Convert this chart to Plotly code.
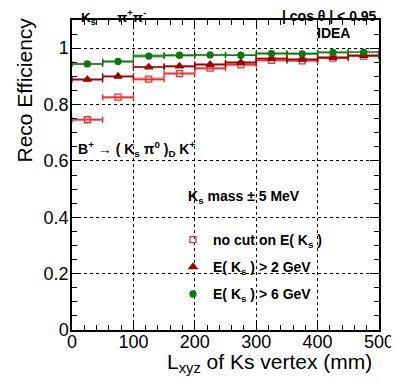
import plotly.graph_objects as go

# ---- data ----
bin_centers = [25, 75, 125, 175, 225, 275, 325, 375, 425, 475]
bin_halfwidth = [25] * 10
eff_nocut = [0.746, 0.826, 0.890, 0.910, 0.929, 0.941, 0.957, 0.955, 0.965, 0.972]
eff_e2 = [0.889, 0.900, 0.933, 0.936, 0.942, 0.949, 0.963, 0.960, 0.967, 0.974]
eff_e6 = [0.944, 0.953, 0.972, 0.975, 0.976, 0.975, 0.981, 0.980, 0.985, 0.986]
err_nocut = [0.006, 0.006, 0.006, 0.005, 0.005, 0.005, 0.005, 0.005, 0.005, 0.005]
err_e2 = [0.005, 0.005, 0.005, 0.005, 0.005, 0.005, 0.004, 0.004, 0.004, 0.004]
err_e6 = [0.005, 0.005, 0.006, 0.005, 0.005, 0.004, 0.004, 0.005, 0.004, 0.004]

series_names = ["no cut on E( K<sub>s</sub> )", "E( K<sub>s</sub> ) > 2 GeV", "E( K<sub>s</sub> ) > 6 GeV"]
x_ticks = [0, 100, 200, 300, 400, 500]
y_ticks = [0, 0.2, 0.4, 0.6, 0.8, 1.0]
y_ticktext = ["0", "0.2", "0.4", "0.6", "0.8", "1"]

FONT = "Liberation Sans, Arial, Helvetica, sans-serif"

styles = [
    dict(vals=eff_nocut, errs=err_nocut, color="#f03030", band="rgba(255,40,40,0.35)",
         symbol="square-open", size=6),
    dict(vals=eff_e2, errs=err_e2, color="#a00000", band="rgba(160,0,0,0.35)",
         symbol="triangle-up", size=7),
    dict(vals=eff_e6, errs=err_e6, color="#0a7a0a", band="rgba(10,122,10,0.35)",
         symbol="circle", size=6),
]

fig = go.Figure()

# shaded error bands
for st in styles:
    fig.add_trace(go.Bar(
        x=bin_centers,
        y=[2 * e for e in st["errs"]],
        base=[v - e for v, e in zip(st["vals"], st["errs"])],
        width=[2 * w for w in bin_halfwidth],
        marker=dict(color=st["band"], line=dict(width=0)),
        showlegend=False, hoverinfo="skip",
    ))

# points with horizontal bin-width error bars
for i, (st, name) in enumerate(zip(styles, series_names)):
    fig.add_trace(go.Scatter(
        x=bin_centers, y=st["vals"], mode="markers", name=name,
        legendgroup=f"g{i}",
        marker=dict(symbol=st["symbol"], size=st["size"], color=st["color"],
                    line=dict(color=st["color"], width=1.3)),
        error_x=dict(type="data", array=bin_halfwidth, symmetric=True,
                     color=st["color"], thickness=1.4, width=3),
    ))

axis_common = dict(
    showline=True, linecolor="black", linewidth=1.5, mirror="allticks",
    ticks="inside", ticklen=9, tickwidth=1, tickcolor="black",
    showgrid=True, gridcolor="black", griddash="dot", gridwidth=1,
    zeroline=False, automargin=False,
    tickfont=dict(family=FONT, size=18, color="black"),
)

fig.update_xaxes(
    range=[0, 500], tickvals=x_ticks, ticklabelstandoff=-5,
    minor=dict(ticks="inside", ticklen=5, dtick=20, tick0=0, tickcolor="black", showgrid=False),
    **axis_common,
)
fig.update_yaxes(
    range=[0, 1.1], tickvals=y_ticks, ticktext=y_ticktext, ticklabelstandoff=-2,
    minor=dict(ticks="inside", ticklen=5, dtick=0.05, tick0=0, tickcolor="black", showgrid=False),
    **axis_common,
)

# plot area in page pixels: x 72..379, y 20..330
def ann(text, px, py, size=14, xanchor="left", bold=True, **kw):
    t = f"<b>{text}</b>" if bold else text
    fig.add_annotation(
        text=t, xref="paper", yref="paper",
        x=(px - 72) / 307, y=(330 - py) / 310,
        xanchor=xanchor, yanchor="middle", showarrow=False,
        font=dict(family=FONT, size=size, color="black"), **kw,
    )

ann("K<sub>s</sub> → π<sup>+</sup>π<sup>-</sup>", 79, 17, size=13.5)
ann("| cos θ | < 0.95", 379, 16, size=14, xanchor="right")
ann("IDEA", 315, 33, size=14)
ann("B<sup>+</sup> → ( K<sub>s</sub> π<sup>0</sup> )<sub>D</sub> K<sup>+</sup>", 76, 149, size=14)
ann("K<sub>s</sub> mass ± 5 MeV", 186, 197, size=14)

# axis titles
fig.add_annotation(
    text="L<sub>xyz</sub> of Ks vertex (mm)", xref="paper", yref="paper",
    x=(374 - 72) / 307, y=(330 - 363) / 310, xanchor="right", yanchor="middle", showarrow=False,
    font=dict(family=FONT, size=21, color="black"),
)
fig.add_annotation(
    text="Reco Efficiency", xref="paper", yref="paper", textangle=-90,
    x=(24 - 72) / 307, y=(330 - 165) / 310, xanchor="center", yanchor="bottom", showarrow=False,
    font=dict(family=FONT, size=21, color="black"),
)

# the page body adds an 8px offset, so the figure is 8px smaller
fig.update_layout(
    width=391, height=376,
    margin=dict(l=64, r=20, t=12, b=54, autoexpand=False),
    paper_bgcolor="white", plot_bgcolor="white",
    barmode="overlay", bargap=0,
    showlegend=True,
    legend=dict(
        x=(173 - 72) / 307, y=(330 - 224) / 310, xanchor="left", yanchor="top",
        bgcolor="rgba(0,0,0,0)", borderwidth=0,
        font=dict(family=FONT, size=14, color="black", weight="bold"),
        traceorder="grouped", tracegroupgap=6, itemwidth=30,
    ),
)

fig.write_html("out.html")
